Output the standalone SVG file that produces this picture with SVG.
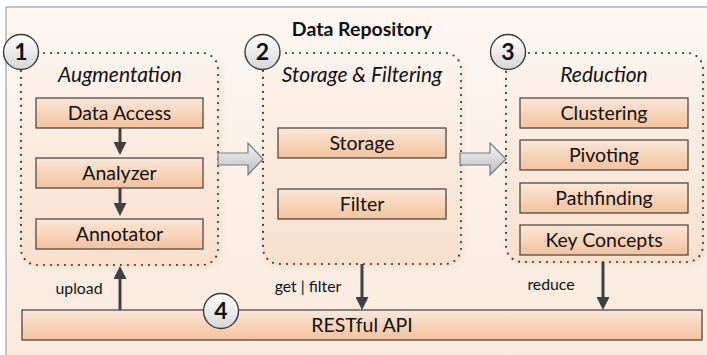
<svg xmlns="http://www.w3.org/2000/svg" width="707" height="355" viewBox="0 0 707 355">
  <style>
    .title { font-family: Lato, "Liberation Sans", sans-serif; font-weight: bold; font-size: 19.5px; fill: #111; }
    .gtitle { font-family: Lato, "Liberation Sans", sans-serif; font-style: italic; font-size: 21px; fill: #111; }
    .lbl { font-family: Lato, "Liberation Sans", sans-serif; font-size: 19.5px; fill: #111; }
    .small { font-family: Lato, "Liberation Sans", sans-serif; font-size: 15.8px; fill: #111; }
    .num { font-family: Lato, "Liberation Sans", sans-serif; font-weight: bold; font-size: 23px; fill: #111; }
    .box { fill: url(#boxFill); stroke: #4a4a4a; stroke-width: 1.3; }
    .grp { fill: url(#grpFill); stroke: #3c3c3c; stroke-width: 2.2; stroke-dasharray: 0 7; stroke-linecap: round; }
    .circ { fill: url(#circFill); stroke: #3a3a3a; stroke-width: 1.4; }
    .conn { stroke: #404040; stroke-width: 3; fill: none; }
    .block { fill: url(#blockFill); stroke: #7a7a7a; stroke-width: 1.2; }
  </style>
  <defs>
    <linearGradient id="bgFill" x1="0" y1="0" x2="0" y2="1">
      <stop offset="0" stop-color="#fdf7f2"/>
      <stop offset="1" stop-color="#fbe9dc"/>
    </linearGradient>
    <linearGradient id="grpFill" x1="0" y1="0" x2="0" y2="1">
      <stop offset="0" stop-color="#fdf4ee"/>
      <stop offset="1" stop-color="#f9e0cd"/>
    </linearGradient>
    <linearGradient id="boxFill" x1="0" y1="0" x2="0" y2="1">
      <stop offset="0" stop-color="#fbe7d8"/>
      <stop offset="1" stop-color="#f4c29c"/>
    </linearGradient>
    <linearGradient id="circFill" x1="0" y1="0" x2="0" y2="1">
      <stop offset="0" stop-color="#ffffff"/>
      <stop offset="1" stop-color="#d6d6d6"/>
    </linearGradient>
    <linearGradient id="blockFill" x1="0" y1="0" x2="0" y2="1">
      <stop offset="0" stop-color="#f4f4f4"/>
      <stop offset="1" stop-color="#bdbdbd"/>
    </linearGradient>
    <filter id="soft" x="-10%" y="-10%" width="120%" height="120%">
      <feGaussianBlur stdDeviation="3"/>
    </filter>
    <marker id="head" markerUnits="userSpaceOnUse" markerWidth="13" markerHeight="13" viewBox="0 0 13 13" refX="5" refY="6.5" orient="auto">
      <path d="M0,0 L13,6.5 L0,13 z" fill="#404040"/>
    </marker>
  </defs>

  <!-- frame -->
  <rect x="6" y="7" width="720" height="370" fill="url(#bgFill)" stroke="#a8a8a8" stroke-width="1.3"/>
  <text class="title" x="362" y="36" text-anchor="middle">Data Repository</text>

  <!-- group 1: Augmentation -->
  <g id="augmentation">
    <rect x="23" y="56" width="197" height="211" rx="16" fill="#f3cdb0" opacity="0.6" filter="url(#soft)"/>
    <rect class="grp" x="21" y="53" width="197" height="212" rx="16"/>
    <text class="gtitle" x="120" y="82" text-anchor="middle">Augmentation</text>
    <circle class="circ" cx="21" cy="52" r="17.5"/>
    <text class="num" x="21" y="60" text-anchor="middle">1</text>
  </g>
  <g id="data-access">
    <rect class="box" x="36" y="98" width="167" height="30"/>
    <text class="lbl" x="119.5" y="120" text-anchor="middle">Data Access</text>
  </g>
  <g id="analyzer">
    <rect class="box" x="36" y="158" width="167" height="30"/>
    <text class="lbl" x="119.5" y="180" text-anchor="middle">Analyzer</text>
  </g>
  <g id="annotator">
    <rect class="box" x="36" y="219" width="167" height="30"/>
    <text class="lbl" x="119.5" y="241" text-anchor="middle">Annotator</text>
  </g>

  <!-- group 2: Storage & Filtering -->
  <g id="storage-filtering">
    <rect x="265" y="56" width="197" height="210" rx="16" fill="#f3cdb0" opacity="0.6" filter="url(#soft)"/>
    <rect class="grp" x="263" y="53" width="198" height="211" rx="16"/>
    <text class="gtitle" x="362" y="82" text-anchor="middle">Storage &amp; Filtering</text>
    <circle class="circ" cx="262.5" cy="52" r="17.5"/>
    <text class="num" x="262.5" y="60" text-anchor="middle">2</text>
  </g>
  <g id="storage">
    <rect class="box" x="278" y="128" width="168" height="30"/>
    <text class="lbl" x="362" y="150" text-anchor="middle">Storage</text>
  </g>
  <g id="filter">
    <rect class="box" x="278" y="189" width="168" height="30"/>
    <text class="lbl" x="362" y="211" text-anchor="middle">Filter</text>
  </g>

  <!-- group 3: Reduction -->
  <g id="reduction">
    <rect x="509" y="56" width="196" height="208" rx="16" fill="#f3cdb0" opacity="0.6" filter="url(#soft)"/>
    <rect class="grp" x="506" y="53" width="197" height="209" rx="16"/>
    <text class="gtitle" x="604" y="82" text-anchor="middle">Reduction</text>
    <circle class="circ" cx="508" cy="52" r="17.5"/>
    <text class="num" x="508" y="60" text-anchor="middle">3</text>
  </g>
  <g id="clustering">
    <rect class="box" x="520" y="98" width="168" height="30"/>
    <text class="lbl" x="604" y="120" text-anchor="middle">Clustering</text>
  </g>
  <g id="pivoting">
    <rect class="box" x="520" y="140" width="168" height="30"/>
    <text class="lbl" x="604" y="162" text-anchor="middle">Pivoting</text>
  </g>
  <g id="pathfinding">
    <rect class="box" x="520" y="183" width="168" height="30"/>
    <text class="lbl" x="604" y="205" text-anchor="middle">Pathfinding</text>
  </g>
  <g id="key-concepts">
    <rect class="box" x="520" y="225" width="168" height="30"/>
    <text class="lbl" x="604" y="247" text-anchor="middle">Key Concepts</text>
  </g>

  <!-- 4: RESTful API -->
  <g id="restful-api">
    <rect class="box" x="22" y="310" width="680" height="30"/>
    <text class="lbl" x="362" y="332" text-anchor="middle">RESTful API</text>
    <circle class="circ" cx="221" cy="311" r="17.5"/>
    <text class="num" x="221" y="319" text-anchor="middle">4</text>
  </g>

  <!-- connectors -->
  <g id="connectors">
    <path class="block" d="M218,153 H248 V143 L263,159 L248,175 V165 H218 Z"/>
    <path class="block" d="M460,153 H490 V143 L506,159 L490,175 V165 H460 Z"/>
    <line class="conn" x1="120" y1="128" x2="120" y2="147" marker-end="url(#head)"/>
    <line class="conn" x1="120" y1="188" x2="120" y2="208" marker-end="url(#head)"/>
    <line class="conn" x1="120" y1="310" x2="120" y2="274" marker-end="url(#head)"/>
    <line class="conn" x1="362" y1="264" x2="362" y2="302" marker-end="url(#head)"/>
    <line class="conn" x1="603" y1="262" x2="603" y2="302" marker-end="url(#head)"/>
    <text class="small" x="79" y="294" text-anchor="middle">upload</text>
    <text class="small" x="308" y="292" text-anchor="middle">get | filter</text>
    <text class="small" x="551" y="290" text-anchor="middle">reduce</text>
  </g>
</svg>
